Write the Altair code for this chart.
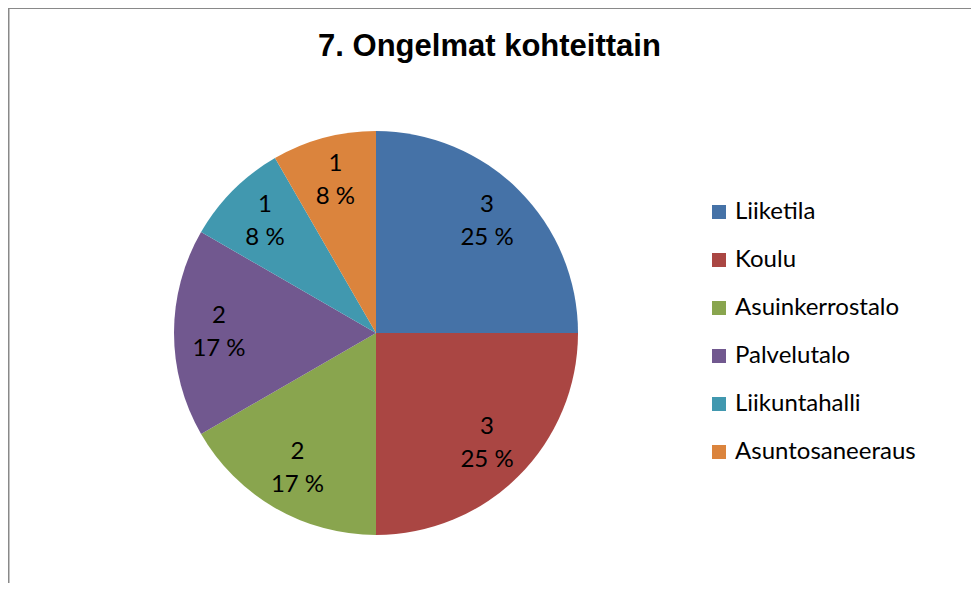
import altair as alt
import pandas as pd

categories = ["Liiketila", "Koulu", "Asuinkerrostalo", "Palvelutalo", "Liikuntahalli", "Asuntosaneeraus"]
counts = [3, 3, 2, 2, 1, 1]
colors = ["#4572A7", "#AA4643", "#89A54E", "#71588F", "#4198AF", "#DB843D"]
title_text = "7. Ongelmat kohteittain"

total = sum(counts)
df = pd.DataFrame({
    "kohde": categories,
    "maara": counts,
    "idx": list(range(len(categories))),
})
df["label"] = [f"{c}\n{round(100 * c / total)} %" for c in counts]

W, H = 963, 575
CX, CY = 368, 325

base = alt.Chart(df).encode(
    theta=alt.Theta("maara:Q", stack=True),
    order=alt.Order("idx:Q", sort="ascending"),
)

pie = base.mark_arc(outerRadius=202, x=CX, y=CY).encode(
    color=alt.Color(
        "kohde:N",
        scale=alt.Scale(domain=categories, range=colors),
        sort=categories,
        legend=alt.Legend(
            orient="none", legendX=699, legendY=192, title=None,
            symbolType="square", symbolSize=196, symbolStrokeWidth=0,
            labelFont="Lato", labelFontSize=24, labelColor="#000000",
            labelOffset=4, rowPadding=24, padding=0, labelLimit=400,
        ),
    )
)

labels = base.mark_text(
    radius=157, x=CX, y=CY, font="Lato", fontSize=24, color="#000000",
    lineBreak="\n", lineHeight=33, align="center", baseline="middle", dy=-17,
).encode(text="label:N")

border_df = pd.DataFrame({"k": [0]})
left_border = alt.Chart(border_df).mark_rule(color="#898989", strokeWidth=2).encode(
    x=alt.value(0.5), y=alt.value(-1), y2=alt.value(H)
)
top_border = alt.Chart(border_df).mark_rule(color="#898989", strokeWidth=2).encode(
    x=alt.value(-0.5), x2=alt.value(W), y=alt.value(0)
)

chart = alt.layer(pie, labels, left_border, top_border).properties(
    width=W, height=H,
    title=alt.TitleParams(
        title_text, anchor="middle", dy=61,
        font="Arial", fontSize=31, fontWeight="bold", color="#000000",
    ),
    autosize=alt.AutoSizeParams(type="none"),
    padding=0,
).configure_view(stroke=None).configure(background="white")

chart.save("out.html", embed_options={"renderer": "svg", "actions": False})
